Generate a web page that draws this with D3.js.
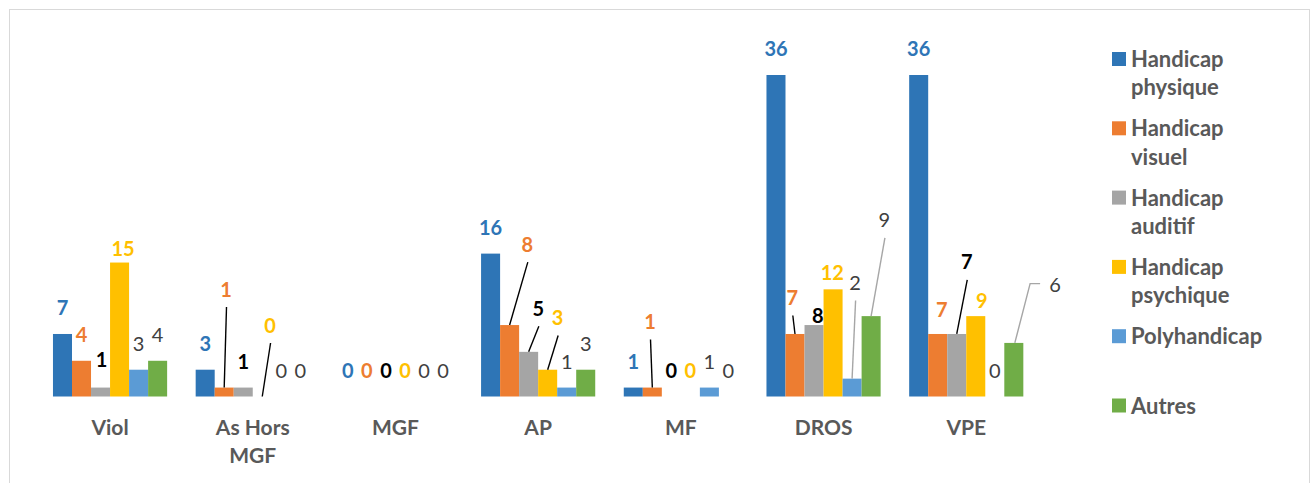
<!DOCTYPE html>
<html><head><meta charset="utf-8">
<script src="https://cdn.jsdelivr.net/npm/d3@7"></script>
<style>
html,body{margin:0;padding:0;background:#fff;}
svg{display:block;font-family:Lato,"Open Sans",sans-serif;}
</style></head>
<body>
<svg id="chart" width="1312" height="483"></svg>
<script>
const categories = ["Viol", "As Hors MGF", "MGF", "AP", "MF", "DROS", "VPE"];
const seriesNames = ["Handicap physique", "Handicap visuel", "Handicap auditif", "Handicap psychique", "Polyhandicap", "Autres"];
const physique  = [7, 3, 0, 16, 1, 36, 36];
const visuel    = [4, 1, 0, 8, 1, 7, 7];
const auditif   = [1, 1, 0, 5, 0, 8, 7];
const psychique = [15, 0, 0, 3, 0, 12, 9];
const poly      = [3, 0, 0, 1, 1, 2, 0];
const autres    = [4, 0, 0, 3, 0, 9, 6];
const seriesValues = [physique, visuel, auditif, psychique, poly, autres];

const barColors   = ["#2E75B6", "#ED7D31", "#A5A5A5", "#FFC000", "#5B9BD5", "#70AD47"];
const labelColors = ["#2E75B6", "#ED7D31", "#000000", "#FFC000", "#404040", "#404040"];
const labelWeights = ["bold", "bold", "bold", "bold", "normal", "normal"];
const leaderColors = ["#000", "#000", "#000", "#000", "#A6A6A6", "#A6A6A6"];

// manual label moves: [seriesIndex, categoryIndex, dx, dy, leader]
const labelMoves = [
  [3, 0, 3.5, 12, ""],
  [2, 0, 1, -2, ""],
  [1, 1, 1.8, -72, "line"],
  [3, 1, 7.8, -45, "line"],
  [1, 3, 17.7, -54.4, "line"],
  [2, 3, 9.7, -17, "line"],
  [3, 3, 10, -25.7, "line"],
  [1, 4, -2.3, -39.6, "line"],
  [1, 5, -2.7, -10, "line"],
  [2, 5, 3.7, 17.3, ""],
  [3, 5, -0.7, 9.7, ""],
  [4, 5, 3, -69.6, "line"],
  [5, 5, 13.3, -69.8, "line"],
  [1, 6, 4, 1.7, ""],
  [2, 6, 10, -45.7, "line"],
  [3, 6, 6, 11.2, ""],
  [5, 6, 41.3, -31.6, "elbow"]
];

const svg = d3.select("#chart");

// chart border
svg.append("rect").attr("x", 9.5).attr("y", 9.5).attr("width", 1300).attr("height", 490)
  .attr("fill", "#fff").attr("stroke", "#D9D9D9").attr("stroke-width", 1);

const x0 = d3.scaleBand().domain(categories).range([38.7, 1037.6]).paddingInner(0.2).paddingOuter(0.1);
const x1 = d3.scaleBand().domain(d3.range(seriesNames.length)).range([0, x0.bandwidth()]);
const y = d3.scaleLinear().domain([0, 36]).range([396.5, 75]);

const data = [];
seriesValues.forEach((vals, s) => vals.forEach((v, c) => data.push({s, c, v})));

// bars
svg.append("g").selectAll("rect").data(data.filter(d => d.v > 0)).join("rect")
  .attr("x", d => x0(categories[d.c]) + x1(d.s))
  .attr("width", x1.bandwidth())
  .attr("y", d => y(d.v))
  .attr("height", d => y(0) - y(d.v))
  .attr("fill", d => barColors[d.s]);

// labels
const moveMap = new Map(labelMoves.map(m => [m[0] + "|" + m[1], m]));
const gl = svg.append("g");
data.forEach(d => {
  const cx = x0(categories[d.c]) + x1(d.s) + x1.bandwidth() / 2;
  const top = y(d.v);
  const m = moveMap.get(d.s + "|" + d.c);
  const lx = cx + (m ? m[2] : 0);
  const ly = top - 19 + (m ? m[3] : 0);
  if (m && m[4] === "line") {
    gl.append("line").attr("x1", lx + 0.5).attr("y1", ly + 10.5).attr("x2", cx).attr("y2", top)
      .attr("stroke", leaderColors[d.s]).attr("stroke-width", 1.4);
  } else if (m && m[4] === "elbow") {
    gl.append("polyline")
      .attr("points", [[lx - 15, ly - 8.7], [lx - 25, ly - 8.7], [cx + 1, top]].map(p => p.join(",")).join(" "))
      .attr("fill", "none").attr("stroke", leaderColors[d.s]).attr("stroke-width", 1.4);
  }
  gl.append("text").attr("x", lx).attr("y", ly).attr("text-anchor", "middle")
    .attr("font-size", 20).attr("font-weight", labelWeights[d.s]).attr("fill", labelColors[d.s])
    .text(d.v);
});

// category axis labels (no axis line)
const xAxis = d3.axisBottom(x0).tickSize(0).tickPadding(0);
const ax = svg.append("g").attr("transform", "translate(0,435)").call(xAxis);
ax.select(".domain").remove();
ax.selectAll("text").attr("font-size", 21).attr("font-weight", "bold").attr("fill", "#595959")
  .attr("font-family", "Lato, 'Open Sans', sans-serif").attr("dy", 0).attr("y", 0)
  .each(function (t) {
    const el = d3.select(this);
    const words = t.split(" ");
    el.text(null);
    let lines = [], cur = [];
    const probe = el.append("tspan");
    words.forEach(w => {
      const test = cur.concat(w).join(" ");
      probe.text(test);
      if (probe.node().getComputedTextLength() > 112 && cur.length) { lines.push(cur.join(" ")); cur = [w]; }
      else cur.push(w);
    });
    lines.push(cur.join(" "));
    probe.remove();
    lines.forEach((l, i) => el.append("tspan").attr("x", 0).attr("dy", i ? 28.3 : 0).text(l));
  });

// legend
const lg = svg.append("g");
seriesNames.forEach((name, i) => {
  const top = 52 + i * 69.3;
  lg.append("rect").attr("x", 1112).attr("y", top).attr("width", 14).attr("height", 14).attr("fill", barColors[i]);
  const t = lg.append("text").attr("x", 1131).attr("y", top + 15).attr("font-size", 22)
    .attr("font-weight", "bold").attr("fill", "#595959");
  name.split(" ").forEach((w, k) => t.append("tspan").attr("x", 1131).attr("dy", k ? 28.3 : 0).text(w));
});
</script>
</body></html>
